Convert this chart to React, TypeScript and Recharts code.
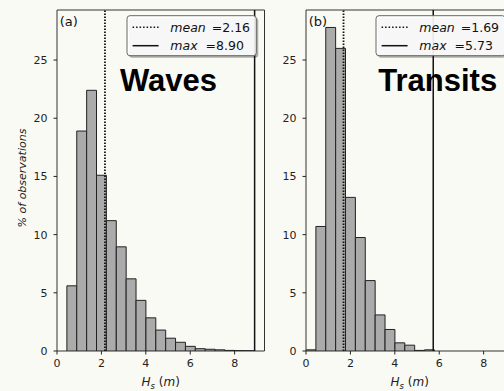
import React from 'react';
import { ComposedChart, Bar, XAxis, YAxis, ReferenceLine, ReferenceArea } from 'recharts';

// histogram bins (left edges, m) shared by both panels
const BIN_LEFT = [0, 0.445, 0.89, 1.335, 1.78, 2.225, 2.67, 3.115, 3.56, 4.005, 4.45, 4.895, 5.34, 5.785, 6.23, 6.675, 7.12, 7.565, 8.01, 8.455];
const BIN_WIDTH = 0.445;

// % of observations per bin
const WAVES_PCT = [0, 5.6, 18.9, 22.4, 15.1, 11.2, 8.95, 6.2, 4.35, 2.85, 1.8, 1.1, 0.75, 0.4, 0.2, 0.15, 0.1, 0.05, 0.03, 0.02];
const TRANSITS_PCT = [0.1, 10.7, 27.8, 26.0, 13.2, 9.75, 6.05, 3.1, 1.85, 0.7, 0.5, 0.05, 0.1];

const WAVES_STATS = [2.16, 8.9]; // mean, max
const TRANSITS_STATS = [1.69, 5.73];

const X_TICKS = [0, 2, 4, 6, 8];
const Y_TICKS = [0, 5, 10, 15, 20, 25];
const X_MAX = 9.345;
const Y_MAX = 29.3;

const FONT = '"DejaVu Sans", sans-serif';
const BG = '#fafaf5';

const CHART_W = 270;
const CHART_H = 391;
const Y_AXIS_W = 57;
const MARGIN = { top: 10, right: 5.5, bottom: 0, left: 0 };
const PLOT_W = CHART_W - Y_AXIS_W - MARGIN.right;

const toRows = (pct: number[]) => pct.map((v, i) => ({ x: BIN_LEFT[i] + BIN_WIDTH / 2, pct: v }));

interface PanelProps {
    pct: number[];
    stats: number[];
    tag: string;
    title: string;
    titleX: number;
    left: number;
    showYLabel?: boolean;
}

const Panel: React.FC<PanelProps> = ({ pct, stats, tag, title, titleX, left, showYLabel }) => {
    const [mean, max] = stats;
    const barSize = (BIN_WIDTH / X_MAX) * PLOT_W - 0.01;
    const tick = { fontSize: 11, fill: '#222', fontFamily: FONT };

    return (
        <div style={{ position: 'absolute', left, top: 0, width: CHART_W, height: CHART_H }}>
            <ComposedChart width={CHART_W} height={CHART_H} data={toRows(pct)} margin={MARGIN}>
                <XAxis
                    dataKey="x"
                    type="number"
                    domain={[0, X_MAX]}
                    ticks={X_TICKS}
                    interval={0}
                    allowDataOverflow
                    height={40}
                    axisLine={false}
                    tickLine={{ stroke: '#222' }}
                    tickSize={3.5}
                    tickMargin={5}
                    tick={tick}
                />
                <YAxis
                    type="number"
                    domain={[0, Y_MAX]}
                    ticks={Y_TICKS}
                    interval={0}
                    allowDataOverflow
                    width={Y_AXIS_W}
                    axisLine={false}
                    tickLine={{ stroke: '#222' }}
                    tickSize={3.5}
                    tickMargin={6}
                    tick={tick}
                />
                <ReferenceArea x1={0} x2={X_MAX} y1={0} y2={Y_MAX} fill="none" stroke="#333" strokeWidth={1} />
                <Bar dataKey="pct" fill="#ababab" stroke="#222" strokeWidth={1} barSize={barSize} isAnimationActive={false} />
                <ReferenceLine x={mean} stroke="#111" strokeWidth={1.8} strokeDasharray="1.5 1.5" />
                <ReferenceLine x={max} stroke="#111" strokeWidth={1.5} />
            </ComposedChart>

            {/* annotations: legend box, panel tag, title, axis labels */}
            <svg width={CHART_W} height={CHART_H} style={{ position: 'absolute', left: 0, top: 0, pointerEvents: 'none' }} fontFamily={FONT}>
                <text x={59.7} y={26} fontSize={13} fill="#111">{tag}</text>

                <rect x={129} y={17.7} width={129.3} height={40} rx={3} fill="#000" fillOpacity={0.3} />
                <rect x={127} y={15.7} width={129.3} height={40} rx={3} fill="#fff" fillOpacity={0.9} stroke="#666" />
                <line x1={132.6} x2={158.6} y1={27.3} y2={27.3} stroke="#111" strokeWidth={1.5} strokeDasharray="1.5 2" />
                <line x1={132.6} x2={158.6} y1={45.7} y2={45.7} stroke="#111" strokeWidth={1.5} />
                <text x={170.3} y={31.9} fontSize={12.5} fill="#111">
                    <tspan fontStyle="italic">mean</tspan>
                    <tspan dx={6}>=</tspan>
                    <tspan>{mean.toFixed(2)}</tspan>
                </text>
                <text x={170.3} y={50.3} fontSize={12.5} fill="#111">
                    <tspan fontStyle="italic">max</tspan>
                    <tspan dx={8}>=</tspan>
                    <tspan>{max.toFixed(2)}</tspan>
                </text>

                <text x={titleX} y={90.7} fontSize={31} fontWeight="bold" fontFamily='"Liberation Sans", Arial, sans-serif' fill="#000">
                    {title}
                </text>

                <text x={Y_AXIS_W + PLOT_W / 2} y={386} fontSize={12} fill="#222" textAnchor="middle">
                    <tspan fontStyle="italic">H</tspan>
                    <tspan fontStyle="italic" fontSize={8.5} dy={3}>s</tspan>
                    <tspan dy={-3}> (</tspan>
                    <tspan fontStyle="italic">m</tspan>
                    <tspan>)</tspan>
                </text>

                {showYLabel && (
                    <text x={0} y={0} fontSize={11} fill="#222" fontStyle="italic" textAnchor="middle" transform="translate(26 178) rotate(-90)">
                        % of observations
                    </text>
                )}
            </svg>
        </div>
    );
};

export default function App() {
    return (
        <div style={{ position: 'fixed', left: 0, top: 0, width: 504, height: 391, overflow: 'hidden', background: BG }}>
            <Panel pct={WAVES_PCT} stats={WAVES_STATS} tag="(a)" title="Waves" titleX={120} left={0} showYLabel />
            <Panel pct={TRANSITS_PCT} stats={TRANSITS_STATS} tag="(b)" title="Transits" titleX={129.3} left={249} />
        </div>
    );
}
